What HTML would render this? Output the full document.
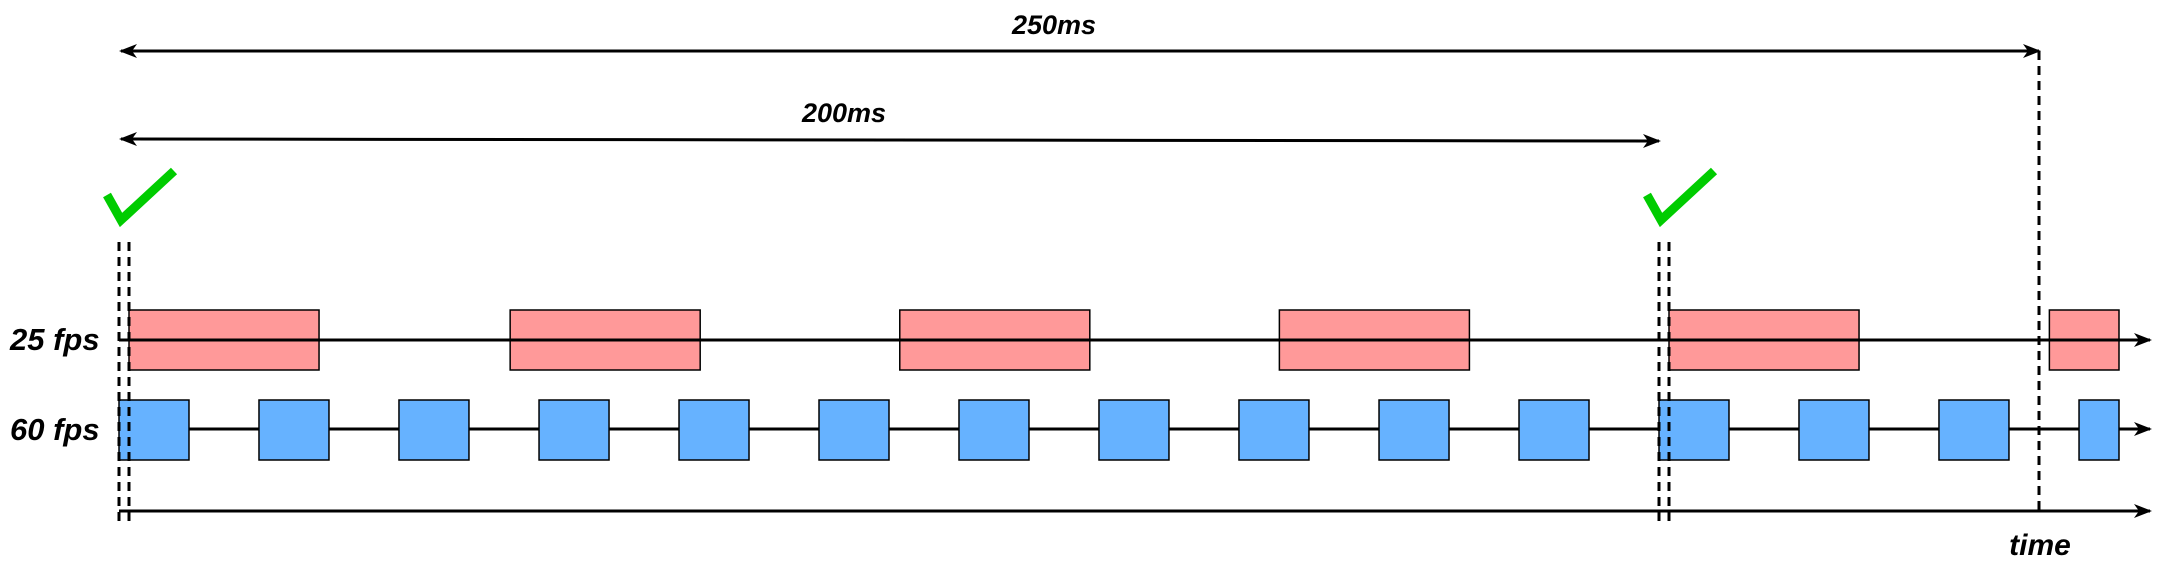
<!DOCTYPE html>
<html><head><meta charset="utf-8"><style>
html,body{margin:0;padding:0;background:#fff;}
svg{display:block;}
text{font-family:"Liberation Sans",sans-serif;font-weight:bold;font-style:italic;fill:#000;}
</style></head><body>
<svg id="chart" width="2161" height="570" viewBox="0 0 2161 570" xmlns="http://www.w3.org/2000/svg">
<defs>
<marker id="ah" viewBox="0 0 18 14" refX="16" refY="7" markerWidth="18" markerHeight="14" markerUnits="userSpaceOnUse" orient="auto-start-reverse">
<path d="M0,0 L18,7 L0,14 L5,7 Z" fill="#000"/>
</marker>
</defs>
<g id="g"></g>
</svg>
<script>
// data (time in ms)
const redFrames = [0, 49.5, 100.1, 149.4, 200, 249.4];
const redWidth = 24.68;
const blueFrames = [0,18.18,36.36,54.55,72.73,90.91,109.09,127.27,145.45,163.64,181.82,200,218.18,236.36,254.55];
const blueWidth = 9.09;
const spanLabels = ['250ms','200ms'];
const spanValues = [250, 200];
const rowLabels = ['25 fps','60 fps'];
const tEnd = 259.74;

const x0 = 119, pxPerMs = 7.7;
function X(t){ return x0 + t*pxPerMs; }
const clipX = X(tEnd);
const NS='http://www.w3.org/2000/svg';
const g = document.getElementById('g');
function mk(tag, attrs, parent){
  const e=document.createElementNS(NS,tag);
  for(const k in attrs) e.setAttribute(k,attrs[k]);
  (parent||g).appendChild(e); return e;
}

// 60fps line (behind boxes)
const l2=mk('line',{x1:x0,y1:429,x2:2150,y2:429,stroke:'#000','stroke-width':3,'marker-end':'url(#ah)'});



// red frames
redFrames.forEach((t,i)=>{
  const xs=X(t)+10, xe=Math.min(X(t+redWidth)+10, clipX);
  const r=mk('rect',{x:xs,y:310,width:xe-xs,height:60,fill:'#ff9999',stroke:'#000','stroke-width':1.5});
  
  
});
// 25fps line (over boxes)
const l1=mk('line',{x1:x0,y1:340,x2:2150,y2:340,stroke:'#000','stroke-width':3,'marker-end':'url(#ah)'});



// blue frames
blueFrames.forEach((t,i)=>{
  const xs=X(t), xe=Math.min(X(t+blueWidth), clipX);
  const r=mk('rect',{x:xs,y:400,width:xe-xs,height:60,fill:'#66b2ff',stroke:'#000','stroke-width':1.5});
  
  
});

const l3=mk('line',{x1:x0,y1:511,x2:2150,y2:511,stroke:'#000','stroke-width':3,'marker-end':'url(#ah)'});



// dashed verticals
function dashed(x,y1,y2,name){
  const d=mk('line',{x1:x,y1:y1,x2:x,y2:y2,stroke:'#000','stroke-width':3,'stroke-dasharray':'9,6'});
  
  
}
dashed(X(0),242,522,'start-marker-a');
dashed(X(0)+10,242,522,'start-marker-b');
dashed(X(spanValues[1]),242,522,'200ms-marker-a');
dashed(X(spanValues[1])+10,242,522,'200ms-marker-b');
dashed(X(spanValues[0])-5,51,511,'250ms-marker');

// span arrows
const spanYs=[51,139];
const labelXs=[1054,844];
spanValues.forEach((v,i)=>{
  const xe = i==0 ? X(v)-5 : X(v);
  const a=mk('line',{x1:X(0)+2,y1:spanYs[i],x2:xe,y2:spanYs[i]+(i==1?2:0),stroke:'#000','stroke-width':3,'marker-start':'url(#ah)','marker-end':'url(#ah)'});
  
  
  const tx=mk('text',{x:labelXs[i],y:spanYs[i]-17,'font-size':27,'text-anchor':'middle'});
  tx.textContent=spanLabels[i];
  
  
});

// checkmarks
[0, spanValues[1]].forEach((t,i)=>{
  const bx=X(t);
  const c=mk('polyline',{points:`${bx-12},${195} ${bx+2},${220} ${bx+55},${171}`,fill:'none',stroke:'#00cc00','stroke-width':9});
  
  
});

// row labels
const rowYs=[350,440];
rowLabels.forEach((s,i)=>{
  const tx=mk('text',{x:10,y:rowYs[i],'font-size':31});
  tx.textContent=s;
  
  
});
const tl=mk('text',{x:2040,y:555,'font-size':30,'text-anchor':'middle'});
tl.textContent='time';


</script>
</body></html>
